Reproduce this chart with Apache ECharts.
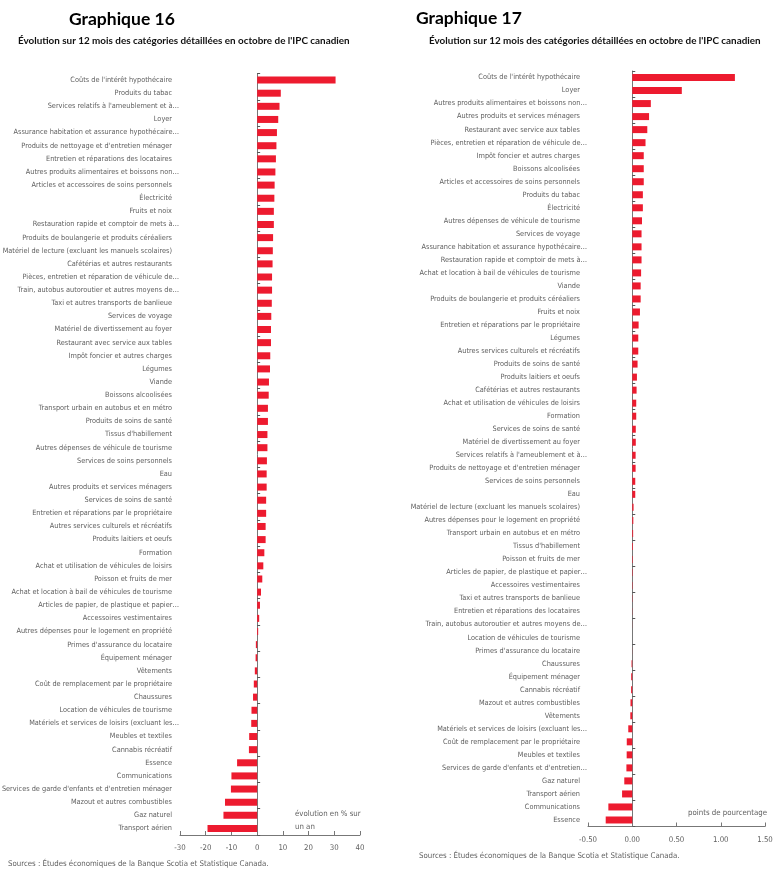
<!DOCTYPE html>
<html><head><meta charset="utf-8">
<script src="https://cdn.jsdelivr.net/npm/echarts@6/dist/echarts.min.js"></script>
<style>html,body{margin:0;padding:0;background:#fff}#c{width:779px;height:878px}</style>
</head><body><div id="c"></div>
<script>
const cats16 = [
"Coûts de l'intérêt hypothécaire","Produits du tabac","Services relatifs à l'ameublement et à…","Loyer",
"Assurance habitation et assurance hypothécaire…","Produits de nettoyage et d'entretien ménager","Entretien et réparations des locataires",
"Autres produits alimentaires et boissons non…","Articles et accessoires de soins personnels","Électricité","Fruits et noix",
"Restauration rapide et comptoir de mets à…","Produits de boulangerie et produits céréaliers","Matériel de lecture (excluant les manuels scolaires)",
"Cafétérias et autres restaurants","Pièces, entretien et réparation de véhicule de…","Train, autobus autoroutier et autres moyens de…",
"Taxi et autres transports de banlieue","Services de voyage","Matériel de divertissement au foyer","Restaurant avec service aux tables",
"Impôt foncier et autres charges","Légumes","Viande","Boissons alcoolisées","Transport urbain en autobus et en métro",
"Produits de soins de santé","Tissus d'habillement","Autres dépenses de véhicule de tourisme","Services de soins personnels","Eau",
"Autres produits et services ménagers","Services de soins de santé","Entretien et réparations par le propriétaire",
"Autres services culturels et récréatifs","Produits laitiers et oeufs","Formation","Achat et utilisation de véhicules de loisirs",
"Poisson et fruits de mer","Achat et location à bail de véhicules de tourisme","Articles de papier, de plastique et papier…",
"Accessoires vestimentaires","Autres dépenses pour le logement en propriété","Primes d'assurance du locataire","Équipement ménager",
"Vêtements","Coût de remplacement par le propriétaire","Chaussures","Location de véhicules de tourisme",
"Matériels et services de loisirs (excluant les…","Meubles et textiles","Cannabis récréatif","Essence","Communications",
"Services de garde d'enfants et d'entretien ménager","Mazout et autres combustibles","Gaz naturel","Transport aérien"];
const vals16 = [30.5,9.2,8.7,8.2,7.7,7.5,7.3,7.1,6.8,6.7,6.5,6.5,6.2,6.1,6.0,5.8,5.8,
5.7,5.5,5.4,5.4,5.1,5.0,4.6,4.5,4.2,4.2,4.0,4.0,3.8,3.7,3.7,3.5,3.5,3.3,3.3,2.8,2.4,2.0,
1.5,1.1,0.8,0.4,-0.5,-0.6,-0.9,-1.3,-1.6,-2.2,-2.3,-3.1,-3.2,-7.8,-10.0,-10.2,-12.5,-13.1,-19.3];

const cats17 = [
"Coûts de l'intérêt hypothécaire","Loyer","Autres produits alimentaires et boissons non…","Autres produits et services ménagers",
"Restaurant avec service aux tables","Pièces, entretien et réparation de véhicule de…","Impôt foncier et autres charges",
"Boissons alcoolisées","Articles et accessoires de soins personnels","Produits du tabac","Électricité",
"Autres dépenses de véhicule de tourisme","Services de voyage","Assurance habitation et assurance hypothécaire…",
"Restauration rapide et comptoir de mets à…","Achat et location à bail de véhicules de tourisme","Viande",
"Produits de boulangerie et produits céréaliers","Fruits et noix","Entretien et réparations par le propriétaire","Légumes",
"Autres services culturels et récréatifs","Produits de soins de santé","Produits laitiers et oeufs","Cafétérias et autres restaurants",
"Achat et utilisation de véhicules de loisirs","Formation","Services de soins de santé","Matériel de divertissement au foyer",
"Services relatifs à l'ameublement et à…","Produits de nettoyage et d'entretien ménager","Services de soins personnels","Eau",
"Matériel de lecture (excluant les manuels scolaires)","Autres dépenses pour le logement en propriété",
"Transport urbain en autobus et en métro","Tissus d'habillement","Poisson et fruits de mer","Articles de papier, de plastique et papier…",
"Accessoires vestimentaires","Taxi et autres transports de banlieue","Entretien et réparations des locataires",
"Train, autobus autoroutier et autres moyens de…","Location de véhicules de tourisme","Primes d'assurance du locataire","Chaussures",
"Équipement ménager","Cannabis récréatif","Mazout et autres combustibles","Vêtements","Matériels et services de loisirs (excluant les…",
"Coût de remplacement par le propriétaire","Meubles et textiles","Services de garde d'enfants et d'entretien…","Gaz naturel",
"Transport aérien","Communications","Essence"];
const vals17 = [1.16,0.56,0.21,0.19,0.17,0.15,0.13,0.13,0.13,0.12,0.12,0.11,0.105,0.105,0.105,0.10,0.095,
0.095,0.087,0.072,0.068,0.068,0.06,0.053,0.049,0.045,0.045,0.04,0.04,0.038,0.038,0.034,0.034,0.015,0.012,0.01,0.008,0.006,0.005,0.004,
0.003,0.002,0.001,0.0,-0.001,-0.008,-0.012,-0.013,-0.02,-0.022,-0.045,-0.062,-0.063,-0.066,-0.09,-0.115,-0.27,-0.30];

// pick a narrow font if one is installed, and size it so that labels have the reference width
const ctx = document.createElement('canvas').getContext('2d');
const probe = "Services de garde d'enfants et d'entretien ménager";
function avail(f){
  ctx.font = '20px monospace'; const a = ctx.measureText(probe).width;
  ctx.font = '20px "'+f+'", monospace'; const b = ctx.measureText(probe).width;
  return Math.abs(a-b) > 0.5;
}
let LBLF = 'Lato';
for (const f of ['Liberation Sans Narrow','DejaVu Sans Condensed','Arial Narrow']) { if (avail(f)) { LBLF = f; break; } }
const LBL = '"'+LBLF+'", Lato, sans-serif';
ctx.font = '20px '+LBL;
let LSZ = Math.round(20*171/ctx.measureText(probe).width*10)/10;
LSZ = Math.max(7, Math.min(9, LSZ));

const RED = '#ED1B2F';
const TXT = "Lato,'Open Sans',sans-serif";
const axisCol = '#777';
const LCOL = '#606060';

function catLabel(v){ return v.endsWith('…') ? '{e|'+v+'}' : '{n|'+v+'}'; }
const labelStyle = {color:LCOL, fontFamily:LBL, fontSize:LSZ, margin:1,
  rich:{n:{color:LCOL,fontFamily:LBL,fontSize:LSZ,padding:[0,7,0,0]}, e:{color:LCOL,fontFamily:LBL,fontSize:LSZ}},
  formatter:catLabel, interval:0};

function yAxes(cats, gi){
  return [
    {type:'category', gridIndex:gi, data:cats, inverse:true, position:'left',
     axisLine:{show:false,onZero:false}, axisTick:{show:false}, axisLabel:labelStyle},
    {type:'category', gridIndex:gi, data:cats, inverse:true, position:'left',
     axisLine:{show:true,onZero:true,lineStyle:{color:axisCol,width:1}},
     axisTick:{show:true,inside:true,length:3,lineStyle:{color:'#555'}}, axisLabel:{show:false}}
  ];
}

const chart = echarts.init(document.getElementById('c'), null, {renderer:'canvas'});
chart.setOption({
  animation:false,
  title:[
    {text:'Graphique 16', left:64, top:5, textStyle:{fontFamily:TXT,fontWeight:'bold',fontSize:17.5,color:'#000'}},
    {text:"Évolution sur 12 mois des catégories détaillées en octobre de l'IPC canadien", left:13, top:31,
     textStyle:{fontFamily:TXT,fontWeight:'bold',fontSize:9.9,color:'#111'}},
    {text:'Graphique 17', left:411, top:4, textStyle:{fontFamily:TXT,fontWeight:'bold',fontSize:17.5,color:'#000'}},
    {text:"Évolution sur 12 mois des catégories détaillées en octobre de l'IPC canadien", left:424, top:31,
     textStyle:{fontFamily:TXT,fontWeight:'bold',fontSize:9.9,color:'#111'}}
  ],
  grid:[
    {left:180, width:180, top:73.5, height:761.5, containLabel:false, outerBoundsMode:'none'},
    {left:588, width:177, top:71, height:755.5, containLabel:false, outerBoundsMode:'none'}
  ],
  xAxis:[
    {type:'value', gridIndex:0, min:-30, max:40, interval:10, splitLine:{show:false},
     axisLine:{show:true,onZero:false,lineStyle:{color:axisCol}}, axisTick:{show:true,inside:true,length:4,lineStyle:{color:axisCol}},
     axisLabel:{color:LCOL,fontFamily:LBL,fontSize:LSZ+0.5,margin:9}},
    {type:'value', gridIndex:1, min:-0.5, max:1.5, interval:0.5, splitLine:{show:false},
     axisLine:{show:true,onZero:false,lineStyle:{color:axisCol}}, axisTick:{show:true,inside:true,length:4,lineStyle:{color:axisCol}},
     axisLabel:{color:LCOL,fontFamily:LBL,fontSize:LSZ+0.5,margin:9,formatter:v=>v.toFixed(2)}}
  ],
  yAxis:[...yAxes(cats16,0), ...yAxes(cats17,1)],
  series:[
    {type:'bar', xAxisIndex:0, yAxisIndex:0, data:vals16, barWidth:7, itemStyle:{color:RED}},
    {type:'bar', xAxisIndex:1, yAxisIndex:2, data:vals17, barWidth:7, itemStyle:{color:RED}}
  ],
  graphic:[
    {type:'text', left:295, top:807, style:{text:'évolution en % sur\nun an', fill:LCOL, font:(LSZ+0.5)+"px "+LBL, lineHeight:13}},
    {type:'text', left:688, top:809, style:{text:'points de pourcentage', fill:LCOL, font:(LSZ+0.5)+"px "+LBL}},
    {type:'text', left:8, top:860, style:{text:'Sources : Études économiques de la Banque Scotia et Statistique Canada.', fill:LCOL, font:(LSZ+0.5)+"px "+LBL}},
    {type:'text', left:419, top:852, style:{text:'Sources : Études économiques de la Banque Scotia et Statistique Canada.', fill:LCOL, font:(LSZ+0.5)+"px "+LBL}}
  ]
});
</script></body></html>
